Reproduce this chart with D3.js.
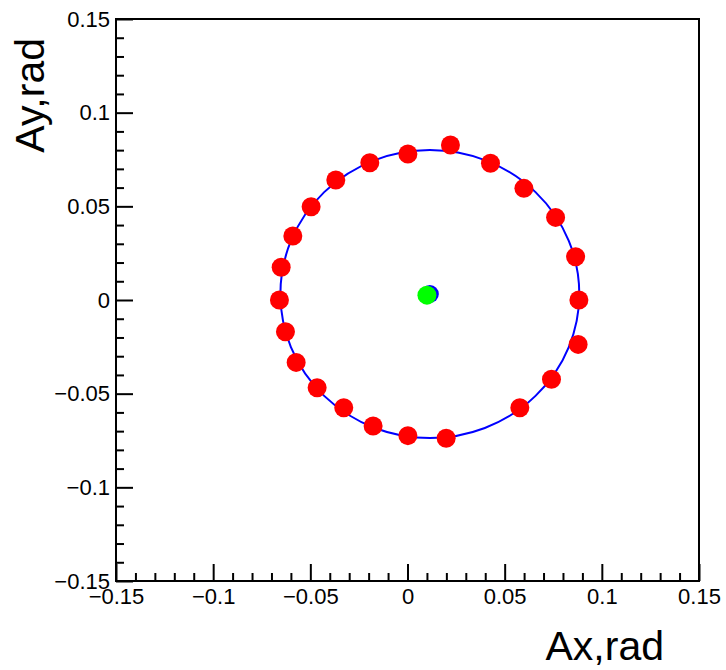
<!DOCTYPE html>
<html>
<head>
<meta charset="utf-8">
<script src="https://cdn.jsdelivr.net/npm/d3@7"></script>
<style>
  body { margin: 0; background: #fff; }
  text { font-family: "Liberation Sans", Arial, sans-serif; }
</style>
</head>
<body>
<svg id="chart" width="726" height="670"></svg>
<script>
// measured points on the ring (rad)
var ringX = [0.0221, 0.0427, 0.0599, 0.0762, 0.0865, 0.0882, 0.0878, 0.0741, 0.0578, 0.0199,
             0.0002, -0.0177, -0.0328, -0.0465, -0.0573, -0.0628, -0.0659, -0.0650, -0.0590,
             -0.0496, -0.0369, -0.0194, 0.0002];
var ringY = [0.0827, 0.0730, 0.0596, 0.0441, 0.0231, 0.0000, -0.0237, -0.0423, -0.0575, -0.0738,
             -0.0724, -0.0673, -0.0575, -0.0468, -0.0333, -0.0169, 0.0000, 0.0175, 0.0342,
             0.0498, 0.0641, 0.0733, 0.0779];

// fitted circle: centre and radius
var fitCenter = [0.0115, 0.0032];
var fitRadius = 0.0769;

// mean position
var meanPoint = [0.0100, 0.0026];

var majorTicks = [-0.15, -0.1, -0.05, 0, 0.05, 0.1, 0.15];
var minorTicks = [-0.14, -0.13, -0.12, -0.11, -0.09, -0.08, -0.07, -0.06, -0.04, -0.03, -0.02, -0.01,
                  0.01, 0.02, 0.03, 0.04, 0.06, 0.07, 0.08, 0.09, 0.11, 0.12, 0.13, 0.14];

var svg = d3.select("#chart");
// frame edges (window.top is reserved, so use own names)
var frameL = 116, frameR = 699, frameT = 19, frameB = 581;

var x = d3.scaleLinear().domain([-0.15, 0.15]).range([frameL, frameR]);
var y = d3.scaleLinear().domain([-0.15, 0.15]).range([frameB, frameT]);
var fmt = d3.format("~g");

// minor ticks first
svg.append("g")
  .attr("transform", "translate(0," + frameB + ")")
  .call(d3.axisBottom(x).tickValues(minorTicks).tickSize(-8).tickSizeOuter(0).tickFormat(""));
svg.append("g")
  .attr("transform", "translate(" + frameL + ",0)")
  .call(d3.axisLeft(y).tickValues(minorTicks).tickSize(-8).tickSizeOuter(0).tickFormat(""));

// major ticks with labels
svg.append("g")
  .attr("transform", "translate(0," + frameB + ")")
  .call(d3.axisBottom(x).tickValues(majorTicks).tickSize(-17).tickSizeOuter(0)
    .tickPadding(7).tickFormat(fmt));
svg.append("g")
  .attr("transform", "translate(" + frameL + ",0)")
  .call(d3.axisLeft(y).tickValues(majorTicks).tickSize(-17).tickSizeOuter(0)
    .tickPadding(6).tickFormat(fmt));

svg.selectAll(".tick line").attr("stroke", "#000").attr("stroke-width", 2);
svg.selectAll(".domain").remove();
svg.selectAll(".tick text").attr("fill", "#000").style("font-size", "22px")
  .style("font-family", "'Liberation Sans', Arial, sans-serif");

// frame
svg.append("rect")
  .attr("x", frameL).attr("y", frameT)
  .attr("width", frameR - frameL).attr("height", frameB - frameT)
  .attr("fill", "none").attr("stroke", "#000").attr("stroke-width", 2);

// fitted circle
svg.append("ellipse")
  .attr("cx", x(fitCenter[0])).attr("cy", y(fitCenter[1]))
  .attr("rx", x(fitCenter[0] + fitRadius) - x(fitCenter[0]))
  .attr("ry", y(fitCenter[1]) - y(fitCenter[1] + fitRadius))
  .attr("fill", "none").attr("stroke", "#0000ff").attr("stroke-width", 2);

// ring points
svg.append("g").selectAll("circle")
  .data(d3.range(ringX.length))
  .enter().append("circle")
  .attr("cx", function(i) { return x(ringX[i]); })
  .attr("cy", function(i) { return y(ringY[i]); })
  .attr("r", 9.5)
  .attr("fill", "#ff0000");

// fit centre and mean point
svg.append("circle")
  .attr("cx", x(fitCenter[0])).attr("cy", y(fitCenter[1]))
  .attr("r", 9).attr("fill", "#0000ff");
svg.append("circle")
  .attr("cx", x(meanPoint[0])).attr("cy", y(meanPoint[1]))
  .attr("r", 9.5).attr("fill", "#00ff00");

// axis titles
svg.append("text")
  .attr("x", 664).attr("y", 660)
  .attr("text-anchor", "end")
  .style("font-size", "41px")
  .text("Ax,rad");
svg.append("text")
  .attr("transform", "translate(44,38) rotate(-90)")
  .attr("text-anchor", "end")
  .style("font-size", "41px")
  .text("Ay,rad");
</script>
</body>
</html>
